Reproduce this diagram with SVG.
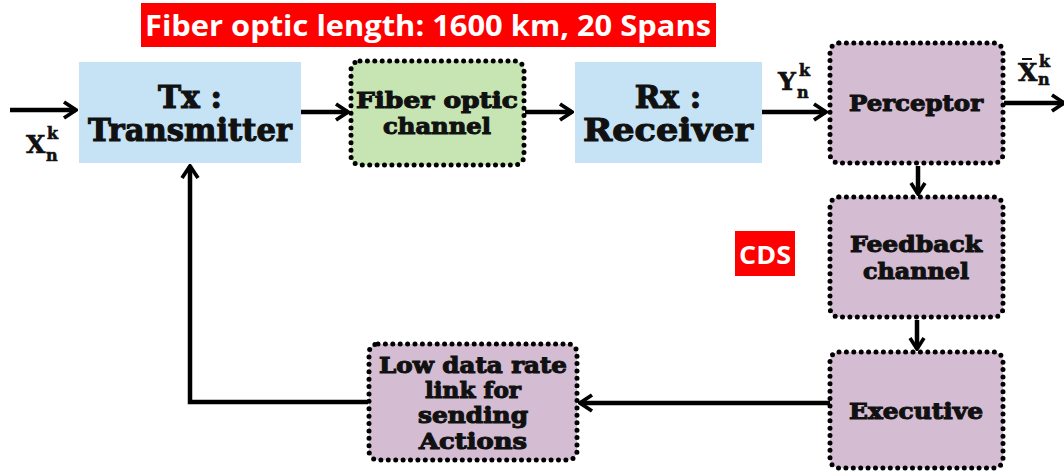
<svg xmlns="http://www.w3.org/2000/svg" width="1064" height="473" viewBox="0 0 1064 473">
<style>
.slab{font-family:"DejaVu Serif","Liberation Serif",serif;font-weight:bold;fill:#111;stroke:#111;stroke-width:1.1;text-anchor:middle}
.big{font-size:31px}
.mid{font-size:23px}
.dot{stroke:#000;stroke-width:5;stroke-dasharray:0 7.4;stroke-linecap:round}
.blue{fill:#c5e3f5}
.purple{fill:#d4bcd3}
.green{fill:#c6e5b2}
.conn{fill:none;stroke:#000;stroke-width:4.5}
.lbl{font-family:"Open Sans","Liberation Sans",sans-serif;font-weight:bold;fill:#fff}
.math{font-family:"DejaVu Serif","Liberation Serif",serif;font-weight:bold;fill:#111;stroke:#111;stroke-width:0.6}
</style>
<defs>
<marker id="ah" viewBox="0 0 16 18" refX="14" refY="9" markerWidth="16" markerHeight="18" markerUnits="userSpaceOnUse" orient="auto">
<polyline points="3,2 14,9 3,16" fill="none" stroke="#000" stroke-width="3.6"/>
</marker>
<marker id="ahs" viewBox="0 0 18 20" refX="16" refY="10" markerWidth="18" markerHeight="20" markerUnits="userSpaceOnUse" orient="auto">
<polyline points="4,2 16,10 4,18" fill="none" stroke="#000" stroke-width="3.8"/>
</marker>
</defs>
<g id="title">
<rect x="141" y="3" width="575" height="44" fill="#ff0000"/>
<text class="lbl" x="428" y="36" font-size="29" text-anchor="middle" textLength="566" lengthAdjust="spacingAndGlyphs">Fiber optic length: 1600 km, 20 Spans</text>
</g>
<g id="cds">
<rect x="735" y="231" width="60" height="45" fill="#ff0000"/>
<text class="lbl" x="765" y="264" font-size="25" text-anchor="middle" textLength="52" lengthAdjust="spacingAndGlyphs">CDS</text>
</g>
<g id="connectors">
<line class="conn" x1="10" y1="110" x2="76" y2="110" marker-end="url(#ahs)"/>
<line class="conn" x1="301" y1="112" x2="348" y2="112" marker-end="url(#ahs)"/>
<line class="conn" x1="525" y1="112" x2="572" y2="112" marker-end="url(#ahs)"/>
<line class="conn" x1="762" y1="112" x2="826" y2="112" marker-end="url(#ahs)"/>
<line class="conn" x1="1004" y1="103" x2="1064" y2="103" marker-end="url(#ahs)"/>
<line class="conn" x1="918" y1="166" x2="918" y2="194" marker-end="url(#ah)"/>
<line class="conn" x1="917" y1="320" x2="917" y2="349" marker-end="url(#ah)"/>
<line class="conn" x1="830" y1="403" x2="580" y2="403" marker-end="url(#ahs)"/>
<polyline class="conn" points="368,402 190,402 190,166" marker-end="url(#ahs)"/>
</g>
<g id="x-in">
<text class="math" x="26" y="153" font-size="25">X</text>
<text class="math" x="47" y="139" font-size="16">k</text>
<text class="math" x="46" y="161" font-size="16">n</text>
</g>
<g id="tx">
<rect class="blue" x="79" y="62" width="222" height="101"/>
<text class="slab big" x="190" y="108">Tx :</text>
<text class="slab big" x="190" y="141" textLength="204" lengthAdjust="spacingAndGlyphs">Transmitter</text>
</g>
<g id="fiber">
<rect class="green dot" x="351" y="61" width="173" height="104" rx="9"/>
<text class="slab mid" x="437" y="108" textLength="162" lengthAdjust="spacingAndGlyphs">Fiber optic</text>
<text class="slab mid" x="437" y="134" textLength="108" lengthAdjust="spacingAndGlyphs">channel</text>
</g>
<g id="rx">
<rect class="blue" x="575" y="62" width="187" height="101"/>
<text class="slab big" x="668" y="108">Rx :</text>
<text class="slab big" x="668" y="141" textLength="170" lengthAdjust="spacingAndGlyphs">Receiver</text>
</g>
<g id="y-lbl">
<text class="math" x="778" y="90" font-size="25">Y</text>
<text class="math" x="799" y="76" font-size="16">k</text>
<text class="math" x="797" y="98" font-size="16">n</text>
</g>
<g id="perceptor">
<rect class="purple dot" x="830" y="43" width="173" height="120" rx="9"/>
<text class="slab mid" x="916" y="111" textLength="134" lengthAdjust="spacingAndGlyphs">Perceptor</text>
</g>
<g id="xbar">
<text class="math" x="1018" y="81" font-size="25">X</text>
<line x1="1022" y1="59" x2="1032" y2="59" stroke="#111" stroke-width="2"/>
<text class="math" x="1039" y="67" font-size="16">k</text>
<text class="math" x="1038" y="85" font-size="16">n</text>
</g>
<g id="feedback">
<rect class="purple dot" x="830" y="197" width="173" height="120" rx="9"/>
<text class="slab mid" x="916" y="252" textLength="132" lengthAdjust="spacingAndGlyphs">Feedback</text>
<text class="slab mid" x="916" y="279" textLength="106" lengthAdjust="spacingAndGlyphs">channel</text>
</g>
<g id="executive">
<rect class="purple dot" x="830" y="352" width="173" height="116" rx="9"/>
<text class="slab mid" x="916" y="419" textLength="134" lengthAdjust="spacingAndGlyphs">Executive</text>
</g>
<g id="lowrate">
<rect class="purple dot" x="369" y="344" width="208" height="116" rx="9"/>
<text class="slab mid" x="473" y="373" textLength="188" lengthAdjust="spacingAndGlyphs">Low data rate</text>
<text class="slab mid" x="473" y="398" textLength="96" lengthAdjust="spacingAndGlyphs">link for</text>
<text class="slab mid" x="473" y="423" textLength="110" lengthAdjust="spacingAndGlyphs">sending</text>
<text class="slab mid" x="473" y="449" textLength="108" lengthAdjust="spacingAndGlyphs">Actions</text>
</g>
</svg>
